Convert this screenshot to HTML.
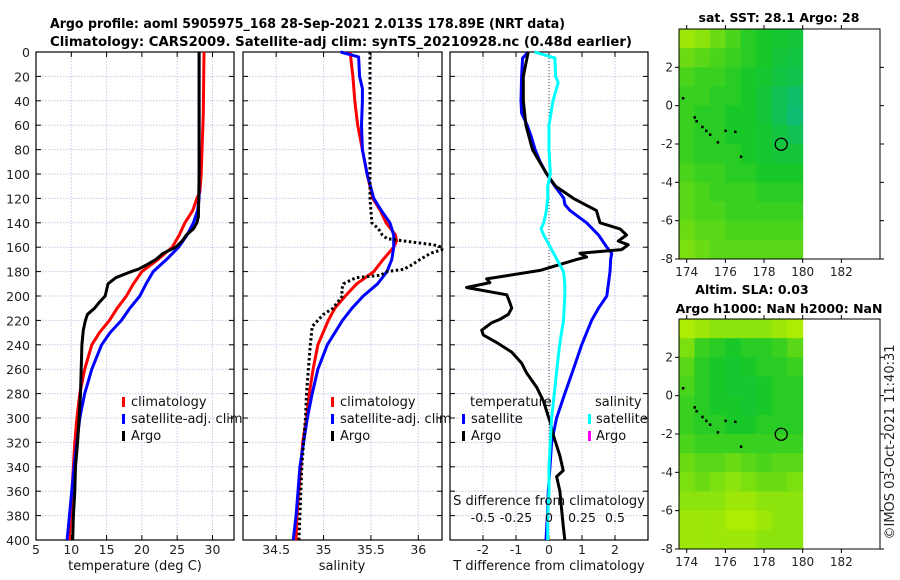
<!DOCTYPE html>
<html><head><meta charset="utf-8"><style>
html,body{margin:0;padding:0;background:#fff;width:900px;height:580px;overflow:hidden}
svg{display:block;font-family:"DejaVu Sans","Liberation Sans",sans-serif}
</style></head><body>
<svg id="fig" width="900" height="580" viewBox="0 0 900 580">
<text x="50" y="28" textLength="515" lengthAdjust="spacingAndGlyphs" font-size="13" font-weight="bold">Argo profile: aoml 5905975_168 28-Sep-2021 2.013S 178.89E (NRT data)</text>
<text x="50" y="46" textLength="582" lengthAdjust="spacingAndGlyphs" font-size="13" font-weight="bold">Climatology: CARS2009. Satellite-adj clim: synTS_20210928.nc (0.48d earlier)</text>
<text x="779" y="22" text-anchor="middle" font-size="12.5" font-weight="bold">sat. SST: 28.1 Argo: 28</text>
<text x="752" y="294" text-anchor="middle" font-size="12.5" font-weight="bold">Altim. SLA: 0.03</text>
<text x="779" y="313" text-anchor="middle" font-size="12.5" font-weight="bold">Argo h1000: NaN h2000: NaN</text>
<text x="0" y="0" transform="translate(894,442) rotate(-90)" text-anchor="middle" font-size="13" fill="#222">©IMOS 03-Oct-2021 11:40:31</text>
<g id="g"></g>
</svg>
<script>
// depth levels (dbar)
const tDepth=[0,50,100,115,120,130,140,150,160,170,180,190,200,210,220,230,240,260,280,300,320,340,370,400];
const tClim=[28.8,28.7,28.4,28.2,27.8,27.2,26.1,25.3,24.3,22.3,20,18.8,17.8,16.5,15.4,14.0,12.9,11.9,11.2,10.8,10.5,10.3,10.0,9.7];
const tSatDepth=[0,50,100,120,130,140,150,160,170,180,190,200,210,220,230,240,260,280,300,340,400];
const tSat=[28.1,28.1,28.1,28.1,27.9,27.3,26.4,25.2,23.5,21.6,20.6,19.7,18.3,17.1,15.5,14.3,12.9,11.9,11.2,10.4,9.4];
const tArgoDepth=[0,50,100,135,140,145,150,155,160,165,170,175,178,180,185,190,195,200,205,210,215,220,228,240,260,280,300,320,340,360,380,400];
const tArgo=[28.1,28.1,28.1,28.0,27.8,27.3,26.3,25.7,24.8,23,22,20.5,19.5,18.5,16.3,15.2,15.0,14.8,14.0,13.3,12.3,12.0,11.7,11.5,11.4,11.3,11.1,10.9,10.6,10.5,10.3,10.2];
const sDepth=[0,20,40,60,80,100,120,130,140,150,155,160,170,180,190,200,210,220,240,260,280,300,320,340,360,380,400];
const sClim=[35.28,35.31,35.33,35.36,35.41,35.46,35.52,35.6,35.66,35.76,35.77,35.74,35.63,35.53,35.35,35.23,35.12,35.05,34.94,34.89,34.85,34.82,34.78,34.76,34.74,34.72,34.71];
const sSatDepth=[0,4,20,30,40,60,80,100,120,130,140,150,160,170,180,190,200,210,220,240,260,280,300,320,340,360,380,400];
const sSat=[35.18,35.37,35.38,35.41,35.41,35.4,35.41,35.46,35.53,35.61,35.7,35.74,35.74,35.72,35.67,35.57,35.42,35.3,35.2,35.04,34.94,34.88,34.83,34.79,34.75,34.73,34.71,34.68];
const sArgoDepth=[0,60,120,130,140,145,150,153,155,158,160,162,165,170,175,178,180,183,185,190,195,200,210,215,220,225,240,260,280,300,320,340,360,380,400];
const sArgo=[35.49,35.49,35.49,35.5,35.51,35.58,35.62,35.67,35.86,36.16,36.25,36.25,36.13,36.02,35.92,35.85,35.67,35.6,35.34,35.21,35.19,35.2,35.1,35.0,34.94,34.88,34.86,34.84,34.82,34.81,34.79,34.77,34.76,34.75,34.74];
const dSatDepth=[0,5,20,40,50,60,70,80,90,100,110,120,125,130,140,150,160,165,170,180,190,200,210,220,240,260,280,300,320,340,360,380,400];
const dTSat=[-0.63,-0.8,-0.83,-0.85,-0.83,-0.66,-0.53,-0.42,-0.27,-0.07,0.18,0.45,0.48,0.64,1.14,1.5,1.75,1.9,1.87,1.85,1.8,1.75,1.5,1.29,0.99,0.74,0.48,0.23,0.08,0.03,-0.02,-0.05,-0.09];
const dArgoDepth=[0,20,40,60,80,100,110,120,130,135,140,145,150,155,158,162,165,168,170,179,186,189,193,199,206,210,215,219,222,228,232,238,246,255,263,275,286,303,314,331,343,348,360,374,388,400];
const dTArgo=[-0.63,-0.78,-0.78,-0.7,-0.5,-0.07,0.2,0.74,1.44,1.49,1.55,2.15,2.35,2.1,2.4,2.2,0.94,1.14,0.84,-0.27,-1.89,-1.79,-2.5,-1.28,-1.18,-1.13,-1.23,-1.48,-1.74,-2.04,-1.99,-1.59,-1.13,-0.83,-0.68,-0.37,-0.17,0.03,0.13,0.33,0.43,0.23,0.33,0.38,0.43,0.48];
const dSDepth=[0,5,20,25,40,60,80,100,110,120,130,140,145,150,160,170,180,190,200,220,240,260,280,300,320,340,360,380,400];
const dSSat=[-0.11,0.045,0.05,0.07,0.03,0,0,0.01,-0.01,-0.01,-0.02,-0.04,-0.06,-0.04,0.01,0.06,0.11,0.12,0.12,0.11,0.08,0.06,0.04,0.02,0.01,0,0,-0.01,-0.01];
const depthTicks=[0,20,40,60,80,100,120,140,160,180,200,220,240,260,280,300,320,340,360,380,400];
const tempTicks=[5,10,15,20,25,30];
const salTicks=[34.5,35,35.5,36];
const dTTicks=[-2,-1,0,1,2];
const dSTickLabels=["-0.5","-0.25","0","0.25","0.5"];
const dSTicks=[-0.5,-0.25,0,0.25,0.5];
const latTicks=[2,0,-2,-4,-6,-8];
const lonTicks=[174,176,178,180,182];
const sstGrid=[
[0.2,0.3,0.5,0.7,0.9,1.0,1.1,1.2],[0.5,0.6,0.7,0.8,0.9,1.0,1.2,1.3],[0.7,0.8,0.8,0.9,1.0,1.1,1.3,1.4],
[0.8,0.8,0.9,0.9,1.0,1.2,1.5,1.7],[0.8,0.9,0.9,1.0,1.0,1.2,1.5,1.8],[0.8,0.9,0.9,1.0,1.0,1.1,1.3,1.5],
[0.8,0.9,0.9,0.9,1.0,1.1,1.2,1.2],[0.7,0.8,0.8,0.9,0.9,1.0,1.0,1.0],[0.6,0.7,0.8,0.8,0.8,0.9,0.9,0.9],
[0.6,0.7,0.7,0.8,0.8,0.8,0.8,0.8],[0.5,0.6,0.6,0.7,0.7,0.7,0.7,0.7],[0.4,0.5,0.6,0.6,0.6,0.6,0.6,0.6]];
const slaGrid=[
[0.1,0.2,0.3,0.3,0.3,0.3,0.2,0.1],[0.4,0.8,0.9,1.0,0.9,0.9,0.8,0.6],[0.6,0.9,1.0,1.1,1.0,0.9,0.9,0.8],
[0.7,0.9,1.0,1.1,1.1,1.0,0.9,0.9],[0.8,0.9,1.0,1.0,1.1,1.0,0.9,0.9],[0.8,0.9,0.9,1.0,1.0,0.9,0.9,0.9],
[0.7,0.8,0.8,0.8,0.8,0.8,0.8,0.8],[0.5,0.6,0.6,0.5,0.6,0.7,0.6,0.6],[0.4,0.5,0.4,0.3,0.4,0.5,0.5,0.4],
[0.3,0.3,0.3,0.2,0.2,0.3,0.3,0.3],[0.2,0.2,0.2,0.1,0.1,0.2,0.3,0.3],[0.2,0.2,0.2,0.2,0.2,0.3,0.3,0.3]];
const islandLon=[173.8,174.4,174.5,174.8,175.0,175.2,175.6,176.0,176.5,176.8];
const islandLat=[0.4,-0.6,-0.8,-1.1,-1.3,-1.5,-1.9,-1.3,-1.35,-2.65];
const argoLon=178.89, argoLat=-2.013;

const NS='http://www.w3.org/2000/svg';
const G=document.getElementById('g');
function mk(tag,at,parent){const e=document.createElementNS(NS,tag);for(const k in at)e.setAttribute(k,at[k]);(parent||G).appendChild(e);return e;}
const TOP=52,BOT=540;
const yD=d=>TOP+(BOT-TOP)*d/400;
function panel(x0,x1,xmin,xmax,xt,xtl,name){
  const xs=v=>x0+(x1-x0)*(v-xmin)/(xmax-xmin);
  const g=mk('g',{});
  
  
  mk('rect',{x:x0,y:TOP,width:x1-x0,height:BOT-TOP,fill:'#fff'},g);
  depthTicks.forEach(d=>{const l=mk('line',{x1:x0,x2:x1,y1:yD(d),y2:yD(d),stroke:'#c4cbe6','stroke-width':1,'stroke-dasharray':'1.5 1.5'},g);
    
    mk('line',{x1:x0,x2:x0+5,y1:yD(d),y2:yD(d),stroke:'#000'},g);mk('line',{x1:x1-5,x2:x1,y1:yD(d),y2:yD(d),stroke:'#000'},g);});
  xt.forEach((v,i)=>{const l=mk('line',{x1:xs(v),x2:xs(v),y1:TOP,y2:BOT,stroke:'#c4cbe6','stroke-dasharray':'1.5 1.5'},g);
    
    mk('line',{x1:xs(v),x2:xs(v),y1:BOT-5,y2:BOT,stroke:'#000'},g);mk('line',{x1:xs(v),x2:xs(v),y1:TOP,y2:TOP+5,stroke:'#000'},g);
    const t=mk('text',{x:xs(v),y:BOT+14,'text-anchor':'middle','font-size':12.5,fill:'#222'},g);t.textContent=xtl?xtl[i]:String(v);
    });
  const r=mk('rect',{x:x0,y:TOP,width:x1-x0,height:BOT-TOP,fill:'none',stroke:'#000','stroke-width':1.2},g);
  
  return {xs,g};
}
function line(p,xv,dv,col,nm,dash,w){
  const pts=xv.map((v,i)=>p.xs(v).toFixed(1)+','+yD(dv[i]).toFixed(1)).join(' ');
  const e=mk('polyline',{points:pts,fill:'none',stroke:col,'stroke-width':w||3,'stroke-linejoin':'round'},p.g);
  if(dash)e.setAttribute('stroke-dasharray',dash);
  
  
}
function txt(x,y,s,opt,nm){const t=mk('text',Object.assign({x,y,'font-size':13,fill:'#111'},opt||{}));t.textContent=s;
  return t;}
function mark(x,y,col,nm){const r=mk('rect',{x,y:y-9,width:3,height:10,fill:col});}

depthTicks.forEach(d=>txt(30,yD(d)+5,String(d),{'text-anchor':'end','font-size':12.5,fill:'#222'},'y-tick-label'));

// panel 1 temperature
const p1=panel(36,234,5,33.05,tempTicks,null,'temperature-panel');
line(p1,tClim,tDepth,'#f00','temperature-climatology-line');
line(p1,tSat,tSatDepth,'#00f','temperature-satellite-line');
line(p1,tArgo,tArgoDepth,'#000','temperature-argo-line');
txt(135,570,'temperature (deg C)',{'text-anchor':'middle'},'x-axis-title-temperature');
[[122,'climatology','#f00'],[122,'satellite-adj. clim','#00f'],[122,'Argo','#000']].forEach((l,i)=>{
  mark(l[0],406+i*17,l[2],'legend-marker');txt(l[0]+9,406+i*17,l[1],{},'legend-entry-temperature');});
// panel 2 salinity
const p2=panel(243,442,34.15,36.25,salTicks,null,'salinity-panel');
line(p2,sClim,sDepth,'#f00','salinity-climatology-line');
line(p2,sSat,sSatDepth,'#00f','salinity-satellite-line');
line(p2,sArgo,sArgoDepth,'#000','salinity-argo-line','2.5 2.5');
txt(342,570,'salinity',{'text-anchor':'middle'},'x-axis-title-salinity');
[[331,'climatology','#f00'],[331,'satellite-adj. clim','#00f'],[331,'Argo','#000']].forEach((l,i)=>{
  mark(l[0],406+i*17,l[2],'legend-marker');txt(l[0]+9,406+i*17,l[1],{},'legend-entry-salinity');});
// panel 3 differences
const p3=panel(450,648,-3,3,dTTicks,null,'difference-panel');
const zl=mk('line',{x1:p3.xs(0),x2:p3.xs(0),y1:TOP,y2:BOT,stroke:'#444','stroke-dasharray':'1 2'},p3.g);

const sx=v=>v*4;
line(p3,dTSat,dSatDepth,'#00f','temp-diff-satellite-line');
line(p3,dTArgo,dArgoDepth,'#000','temp-diff-argo-line');
line(p3,dSSat.map(sx),dSDepth,'#0ff','sal-diff-satellite-line');
txt(549,570,'T difference from climatology',{'text-anchor':'middle'},'x-axis-title-tdiff');
txt(549,505,'S difference from climatology',{'text-anchor':'middle'},'s-axis-title');
dSTicks.forEach((v,i)=>txt(p3.xs(sx(v)),522,dSTickLabels[i],{'text-anchor':'middle','font-size':12.5},'s-tick-label'));
txt(470,406,'temperature',{},'legend-title-temperature');
mark(462,423,'#00f','legend-marker');txt(471,423,'satellite',{},'legend-entry-tsat');
mark(462,440,'#000','legend-marker');txt(471,440,'Argo',{},'legend-entry-targo');
txt(595,406,'salinity',{},'legend-title-salinity');
mark(588,423,'#0ff','legend-marker');txt(596,423,'satellite',{},'legend-entry-ssat');
mark(588,440,'#f0f','legend-marker');txt(596,440,'Argo',{},'legend-entry-sargo');

function col(v){let a,b,t;
  const c0=[190,240,0],c1=[24,200,40],c2=[10,185,130];
  if(v<=1){a=c0;b=c1;t=v;}else{a=c1;b=c2;t=v-1;}
  return 'rgb('+a.map((x,i)=>Math.round(x+(b[i]-x)*t)).join(',')+')';}
function map(top,grid,name){
  const X0=679,X1=880,H=230,lonMin=173.6,lonMax=184,latMax=4,latMin=-8;
  const lx=v=>X0+(X1-X0)*(v-lonMin)/(lonMax-lonMin);
  const ly=v=>top+H*(latMax-v)/(latMax-latMin);
  const g=mk('g',{});
  
  
  grid.forEach((row,r)=>row.forEach((v,c)=>{
    const x=lx(lonMin+c*0.8),w=lx(lonMin+(c+1)*0.8)-x;
    const e=mk('rect',{x:x.toFixed(1),y:ly(latMax-r).toFixed(1),width:(w+0.5).toFixed(1),height:(ly(0)-ly(1)+0.5).toFixed(1),fill:col(v)},g);
    
    
  }));
  islandLon.forEach((lo,i)=>{const e=mk('rect',{x:lx(lo)-1,y:ly(islandLat[i])-1,width:2.5,height:2.5,fill:'#000'},g);
    });
  const c=mk('circle',{cx:lx(argoLon),cy:ly(argoLat),r:6,fill:'none',stroke:'#000','stroke-width':1.3},g);
  
  const fr=mk('rect',{x:X0,y:top,width:X1-X0,height:H,fill:'none',stroke:'#000','stroke-width':1},g);
  
  latTicks.forEach(v=>{mk('line',{x1:X0-4,x2:X0,y1:ly(v),y2:ly(v),stroke:'#000'},g);mk('line',{x1:X1,x2:X1+4,y1:ly(v),y2:ly(v),stroke:'#000'},g);
    txt(673,ly(v)+4,String(v),{'text-anchor':'end','font-size':12,fill:'#222'},'lat-tick-label');});
  lonTicks.forEach(v=>{mk('line',{x1:lx(v),x2:lx(v),y1:top+H,y2:top+H+4,stroke:'#000'},g);mk('line',{x1:lx(v),x2:lx(v),y1:top-4,y2:top,stroke:'#000'},g);
    txt(lx(v),top+H+17,String(v),{'text-anchor':'middle','font-size':12,fill:'#222'},'lon-tick-label');});
}
map(29,sstGrid,'sst-map');
map(319,slaGrid,'sla-map');
</script>
</body></html>
